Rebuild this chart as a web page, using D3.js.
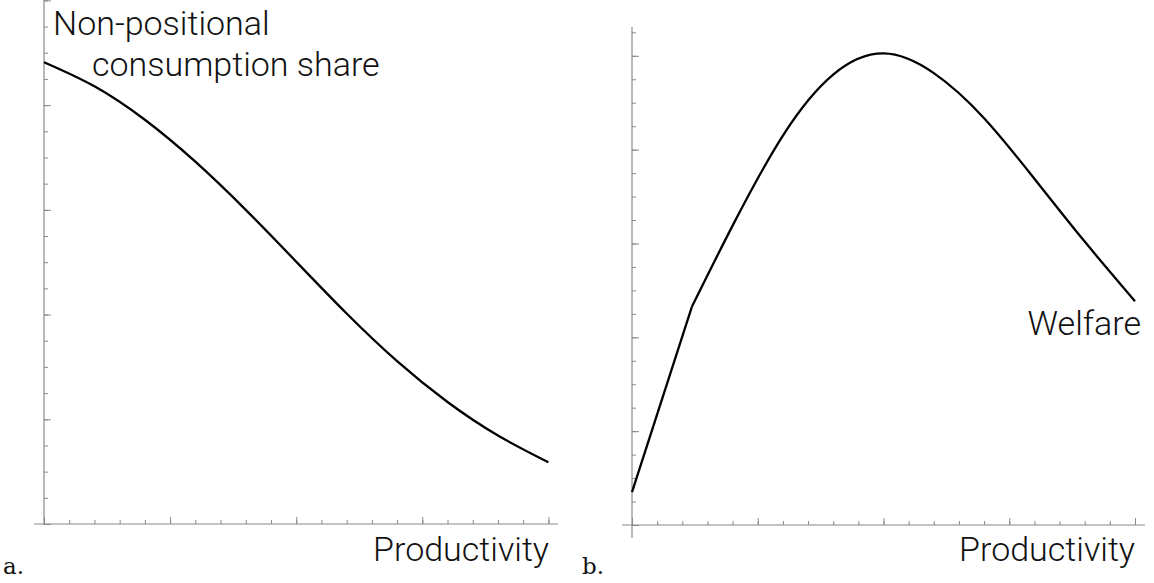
<!DOCTYPE html>
<html>
<head>
<meta charset="utf-8">
<script src="https://cdn.jsdelivr.net/npm/d3@7"></script>
<style>
  body { margin: 0; background: #fff; }
  .lbl { font-family: "Helvetica Neue", Roboto, "Open Sans", sans-serif; font-weight: 300; fill: #111; }
  .tag { font-family: "DejaVu Serif", "Liberation Serif", serif; fill: #111; }
</style>
</head>
<body>
<svg id="chart" width="1154" height="583"></svg>
<script>
// panel a: non-positional consumption share against productivity
const shareX = [0, 0.1, 0.2, 0.3, 0.4, 0.5, 0.6, 0.7, 0.8, 0.9, 1.0];
const shareY = [0.882, 0.836, 0.772, 0.692, 0.600, 0.501, 0.402, 0.311, 0.233, 0.169, 0.118];

// panel b: welfare against productivity (kinked at the start)
const welfareX = [0, 0.119, 0.2, 0.3, 0.4, 0.5, 0.6, 0.7, 0.8, 0.9, 1.0];
const welfareY = [0.070, 0.465, 0.638, 0.830, 0.960, 1.005, 0.963, 0.867, 0.738, 0.604, 0.477];

// tick positions (no tick labels in the original)
const xMinor = d3.range(0, 1.0001, 0.05);
const xMajor = [0, 0.25, 0.5, 0.75, 1];
const yMinorA = d3.range(0, 1.0001, 0.05);
const yMinorB = d3.range(0, 1.0501, 0.05);
const yMajor = [0, 0.2, 0.4, 0.6, 0.8, 1];

const axisColor = "#8a8a8a";

let svg = d3.select("#chart");

function drawAxes(g, x, y, yMinor, xLine, yLine) {
  // x axis line
  g.append("line")
    .attr("x1", xLine[0]).attr("x2", xLine[1])
    .attr("y1", y(0)).attr("y2", y(0))
    .attr("stroke", axisColor).attr("stroke-width", 1.2);
  // y axis line
  g.append("line")
    .attr("x1", x(0)).attr("x2", x(0))
    .attr("y1", yLine[0]).attr("y2", yLine[1])
    .attr("stroke", axisColor).attr("stroke-width", 1.2);

  // ticks point into the plot
  let xMinorAxis = d3.axisBottom(x).tickValues(xMinor).tickSize(-4).tickFormat("");
  let xMajorAxis = d3.axisBottom(x).tickValues(xMajor).tickSize(-7).tickFormat("");
  let yMinorAxis = d3.axisLeft(y).tickValues(yMinor).tickSize(-4).tickFormat("");
  let yMajorAxis = d3.axisLeft(y).tickValues(yMajor).tickSize(-7).tickFormat("");

  [[xMinorAxis, "x"], [xMajorAxis, "x"], [yMinorAxis, "y"], [yMajorAxis, "y"]].forEach(([ax, k]) => {
    let a = g.append("g")
      .attr("transform", k == "x" ? "translate(0," + y(0) + ")" : "translate(" + x(0) + ",0)")
      .call(ax);
    a.select(".domain").remove();
    a.selectAll(".tick line").attr("stroke", axisColor).attr("stroke-width", 1);
  });
}

// ---- panel a ----
let xA = d3.scaleLinear().domain([0, 1]).range([44, 548.4]);
let yA = d3.scaleLinear().domain([0, 1]).range([524, 0.4]);
let gA = svg.append("g");
drawAxes(gA, xA, yA, yMinorA, [34, 558], [0, 524]);

gA.append("path")
  .datum(shareX.map((d, i) => [d, shareY[i]]))
  .attr("fill", "none")
  .attr("stroke", "#000")
  .attr("stroke-width", 2.3)
  .attr("d", d3.line().x(d => xA(d[0])).y(d => yA(d[1])).curve(d3.curveNatural));

gA.append("text").attr("class", "lbl").attr("x", 53).attr("y", 35)
  .style("font-size", "34px").text("Non-positional");
gA.append("text").attr("class", "lbl").attr("x", 92).attr("y", 76)
  .style("font-size", "34px").text("consumption share");
gA.append("text").attr("class", "lbl").attr("x", 549).attr("y", 561)
  .attr("text-anchor", "end").style("font-size", "34px").text("Productivity");
gA.append("text").attr("class", "tag").attr("x", 3).attr("y", 574)
  .style("font-size", "23px").text("a.");

// ---- panel b ----
let xB = d3.scaleLinear().domain([0, 1]).range([632, 1135]);
let yB = d3.scaleLinear().domain([0, 1]).range([525, 55.8]);
let gB = svg.append("g");
drawAxes(gB, xB, yB, yMinorB, [622, 1145], [27, 538]);

let welfarePts = welfareX.map((d, i) => [d, welfareY[i]]);
// straight first piece up to the kink, smooth afterwards
gB.append("path")
  .datum(welfarePts.slice(0, 2))
  .attr("fill", "none")
  .attr("stroke", "#000")
  .attr("stroke-width", 2.3)
  .attr("d", d3.line().x(d => xB(d[0])).y(d => yB(d[1])));
gB.append("path")
  .datum(welfarePts.slice(1))
  .attr("fill", "none")
  .attr("stroke", "#000")
  .attr("stroke-width", 2.3)
  .attr("d", d3.line().x(d => xB(d[0])).y(d => yB(d[1])).curve(d3.curveNatural));

gB.append("text").attr("class", "lbl").attr("x", 1141).attr("y", 335)
  .attr("text-anchor", "end").style("font-size", "34px").text("Welfare");
gB.append("text").attr("class", "lbl").attr("x", 1135).attr("y", 561)
  .attr("text-anchor", "end").style("font-size", "34px").text("Productivity");
gB.append("text").attr("class", "tag").attr("x", 582).attr("y", 574)
  .style("font-size", "23px").text("b.");
</script>
</body>
</html>
